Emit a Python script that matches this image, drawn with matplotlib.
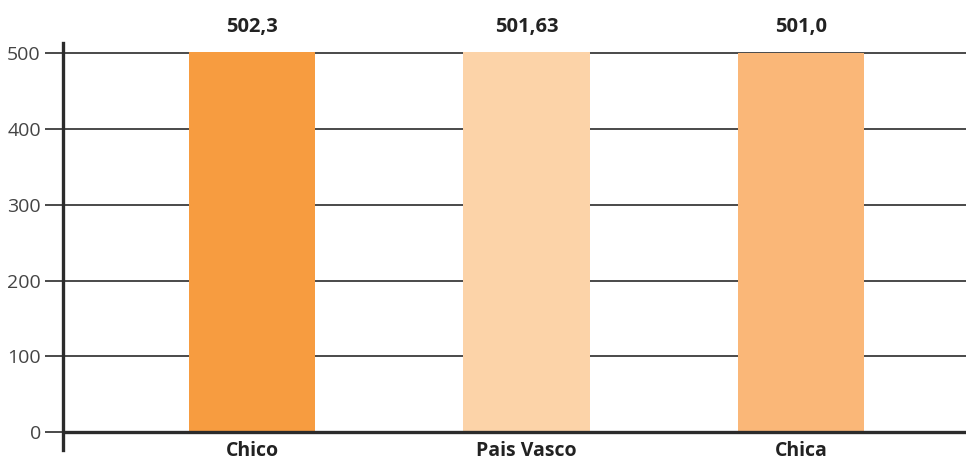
import matplotlib
matplotlib.use("Agg")
import matplotlib.pyplot as plt
import matplotlib.transforms as mtransforms

categories = ["Chico", "Pais Vasco", "Chica"]
values = [502.3, 501.63, 501.0]
value_labels = ["502,3", "501,63", "501,0"]
bar_colors = ["#F79C40", "#FCD3A8", "#FAB778"]
yticks = [0, 100, 200, 300, 400, 500]

plt.rcParams["font.family"] = ["Open Sans", "DejaVu Sans"]

fig = plt.figure(figsize=(9.66, 4.62), dpi=100)
ax = fig.add_axes([63 / 966, 12 / 462, 1 - 63 / 966, 407 / 462])

x = list(range(len(categories)))
ax.bar(x, values, width=0.46, color=bar_colors, zorder=3)

ax.set_xlim(-0.689, 2.601)
ax.set_ylim(-23.8, 513.6)

# horizontal rules
for t in yticks[1:]:
    ax.axhline(t, color="#2b2b2b", lw=1.2, zorder=2)
ax.axhline(0, color="#2b2b2b", lw=2.4, zorder=4)

ax.set_yticks(yticks)
ax.set_yticklabels([str(t) for t in yticks], fontsize=14, color="#444444")
ax.tick_params(axis="y", length=13, width=1.2, color="#2b2b2b", pad=3)
ax.set_xticks([])

for s in ["top", "right", "bottom"]:
    ax.spines[s].set_visible(False)
ax.spines["left"].set_linewidth(2.4)
ax.spines["left"].set_color("#2b2b2b")

# category names under the baseline
for xi, name in zip(x, categories):
    ax.annotate(name, xy=(xi, 0), xytext=(0, -14), textcoords="offset points",
                ha="center", va="center", fontsize=14, fontweight="bold",
                color="#222222", annotation_clip=False)

# value labels above the plot
label_tf = mtransforms.blended_transform_factory(ax.transData, fig.transFigure)
for xi, lab in zip(x, value_labels):
    ax.text(xi, 1 - 27 / 462, lab, transform=label_tf,
            ha="center", va="center", fontsize=14.5, fontweight="bold", color="#222222")

fig.savefig("out.png", dpi=100)
